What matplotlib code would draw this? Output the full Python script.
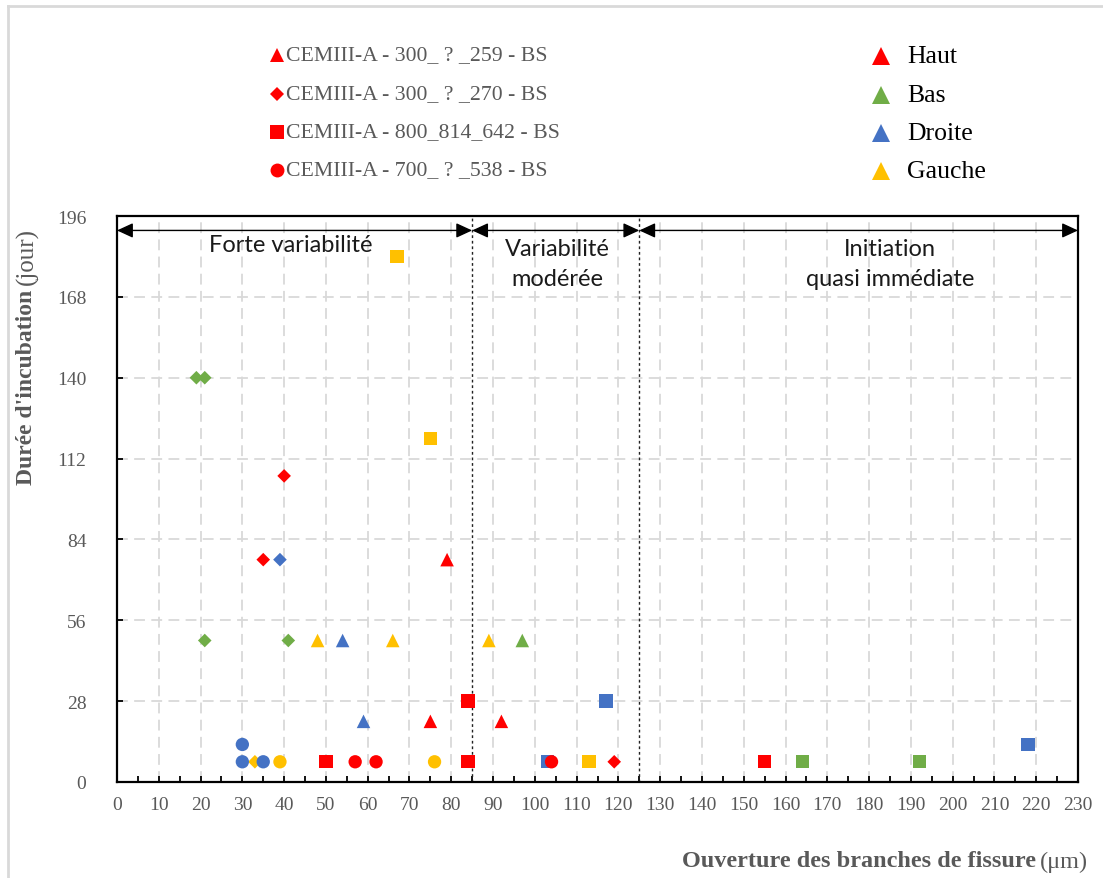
import matplotlib
matplotlib.use("Agg")
import matplotlib.pyplot as plt
from matplotlib.lines import Line2D

# orientations and colours
orient_names = ['Haut', 'Bas', 'Droite', 'Gauche']
orient_colors = {'Haut': '#FF0000', 'Bas': '#70AD47', 'Droite': '#4472C4', 'Gauche': '#FFC000'}

# series (one marker per sample)
series_labels = ['CEMIII-A - 300_ ? _259 - BS', 'CEMIII-A - 300_ ? _270 - BS',
                 'CEMIII-A - 800_814_642 - BS', 'CEMIII-A - 700_ ? _538 - BS']
series_markers = ['^', 'D', 's', 'o']
series_sizes = [95, 48, 92, 92]

# triangles (259)
tri_x = [79, 75, 92, 97, 54, 59, 48, 66, 89]
tri_y = [77, 21, 21, 49, 49, 21, 49, 49, 49]
tri_o = ['Haut', 'Haut', 'Haut', 'Bas', 'Droite', 'Droite', 'Gauche', 'Gauche', 'Gauche']

# diamonds (270)
dia_x = [40, 35, 119, 19, 21, 21, 41, 39, 33]
dia_y = [106, 77, 7, 140, 140, 49, 49, 77, 7]
dia_o = ['Haut', 'Haut', 'Haut', 'Bas', 'Bas', 'Bas', 'Bas', 'Droite', 'Gauche']

# squares (642)
sq_x = [84, 50, 84, 155, 164, 192, 117, 103, 218, 67, 75, 113]
sq_y = [28, 7, 7, 7, 7, 7, 28, 7, 13, 182, 119, 7]
sq_o = ['Haut', 'Haut', 'Haut', 'Haut', 'Bas', 'Bas', 'Droite', 'Droite', 'Droite',
        'Gauche', 'Gauche', 'Gauche']

# circles (538)
ci_x = [57, 62, 104, 30, 30, 35, 39, 76]
ci_y = [7, 7, 7, 13, 7, 7, 7, 7]
ci_o = ['Haut', 'Haut', 'Haut', 'Droite', 'Droite', 'Droite', 'Gauche', 'Gauche']

series_data = [(tri_x, tri_y, tri_o), (dia_x, dia_y, dia_o),
               (sq_x, sq_y, sq_o), (ci_x, ci_y, ci_o)]

# zones of variability
zone_bounds = [0, 85, 125, 230]
zone_texts = ['Forte variabilité', 'Variabilité\nmodérée', 'Initiation\nquasi immédiate']
zone_text_x = [41.5, 105.5, 185]
zone_text_y = [186, 179.5, 179.5]
arrow_y = 191

W, H = 1103, 879
fig = plt.figure(figsize=(W / 100, H / 100), dpi=100)
ax = fig.add_axes([117 / W, 1 - 783 / H, (1078 - 117) / W, (783 - 217) / H])

grey = '#595959'
serif = 'Liberation Serif'

for (xs, ys, os_), m, s in zip(series_data, series_markers, series_sizes):
    cols = [orient_colors[o] for o in os_]
    ax.scatter(xs, ys, marker=m, s=s, c=cols, linewidths=0, zorder=3)

ax.set_xlim(0, 230)
ax.set_ylim(0, 196)
ax.set_xticks(range(0, 231, 10))
ax.set_xticks(range(5, 231, 10), minor=True)
ax.set_yticks(range(0, 197, 28))

ax.grid(True, which='major', color='#D9D9D9', linestyle=(0, (6, 3.5)), linewidth=1.3, zorder=0)
ax.set_axisbelow(True)

for b in zone_bounds[1:-1]:
    ax.axvline(b, color='#222222', linestyle=(0, (2, 2)), linewidth=1, zorder=2)

for i in range(3):
    ax.annotate('', xy=(zone_bounds[i + 1], arrow_y), xytext=(zone_bounds[i], arrow_y),
                arrowprops=dict(arrowstyle='<|-|>,head_length=0.65,head_width=0.3',
                                color='black', lw=1, mutation_scale=15,
                                shrinkA=0, shrinkB=0), zorder=4)
    ax.text(zone_text_x[i], zone_text_y[i], zone_texts[i], ha='center', va='center',
            fontsize=17, family='Lato', color='#1a1a1a', linespacing=1.55, zorder=4)

for sp in ax.spines.values():
    sp.set_linewidth(1.6)
    sp.set_color('black')

ax.tick_params(axis='both', which='both', direction='in', length=4, width=1.3,
               colors='black', labelcolor=grey)
ax.tick_params(axis='x', which='minor', length=4)
ax.tick_params(axis='x', pad=10)
ax.tick_params(axis='y', pad=22)
for lab in ax.get_xticklabels() + ax.get_yticklabels():
    lab.set_fontfamily(serif)
    lab.set_fontsize(14)

# axis titles (bold part + normal unit)
fig.text(1036 / W, 1 - 862 / H, 'Ouverture des branches de fissure', ha='right', va='center',
         fontsize=17.5, family=serif, fontweight='bold', color=grey)
fig.text(1040 / W, 1 - 862 / H, '(μm)', ha='left', va='center',
         fontsize=17.5, family=serif, color=grey)
fig.text(27 / W, 1 - 290 / H, "Durée d'incubation", ha='center', va='top', rotation=90,
         fontsize=17, family=serif, fontweight='bold', color=grey)
fig.text(27 / W, 1 - 285 / H, '(jour)', ha='center', va='bottom', rotation=90,
         fontsize=18, family=serif, color=grey)

# legend of the series (left)
leg1_y = [56, 95, 133, 171]
for lab, m, yy in zip(series_labels, series_markers, leg1_y):
    ms = 7.5 if m == 'D' else 10
    fig.add_artist(Line2D([277 / W], [1 - yy / H], marker=m, markersize=ms, color='#FF0000',
                          markeredgewidth=0, linestyle='none', transform=fig.transFigure))
    fig.text(286 / W, 1 - yy / H, lab, ha='left', va='center', fontsize=15.7,
             family=serif, color=grey)

# legend of the orientations (right)
leg2_y = [57, 96, 134, 172]
for name, yy in zip(orient_names, leg2_y):
    fig.add_artist(Line2D([881 / W], [1 - yy / H], marker='^', markersize=13,
                          color=orient_colors[name], markeredgewidth=0, linestyle='none',
                          transform=fig.transFigure))
    fig.text(907 / W, 1 - yy / H, name, ha='left', va='center', fontsize=18.5,
             family=serif, color='black')

# light frame on top and left
fig.add_artist(Line2D([8 / W, 8 / W], [0, 1 - 7 / H], color='#D9D9D9', lw=2,
                      transform=fig.transFigure))
fig.add_artist(Line2D([8 / W, 1], [1 - 7 / H, 1 - 7 / H], color='#D9D9D9', lw=2,
                      transform=fig.transFigure))

fig.savefig('out.png', dpi=100)
